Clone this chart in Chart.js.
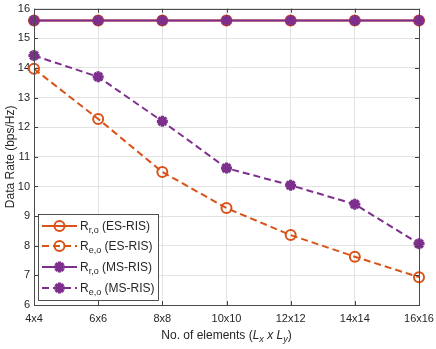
<!DOCTYPE html>
<html>
<head>
<meta charset="utf-8">
<script src="https://cdn.jsdelivr.net/npm/chart.js@4"></script>
<style>
html,body{margin:0;padding:0;background:#fff;}
#wrap{width:436px;height:349px;position:relative;}
</style>
</head>
<body>
<div id="wrap"><canvas id="c" width="436" height="349"></canvas></div>
<script>
const categories = ['4x4','6x6','8x8','10x10','12x12','14x14','16x16'];
const yTicks = [6,7,8,9,10,11,12,13,14,15,16];
const rroES = [15.6,15.6,15.6,15.6,15.6,15.6,15.6];
const reoES = [13.97,12.28,10.49,9.27,8.36,7.63,6.94];
const rroMS = [15.6,15.6,15.6,15.6,15.6,15.6,15.6];
const reoMS = [14.42,13.70,12.20,10.62,10.04,9.40,8.07];

const legendNames = [
  {main:'R', sub:'r,o', tail:' (ES-RIS)'},
  {main:'R', sub:'e,o', tail:' (ES-RIS)'},
  {main:'R', sub:'r,o', tail:' (MS-RIS)'},
  {main:'R', sub:'e,o', tail:' (MS-RIS)'}
];

const ORANGE = '#D95319';
const PURPLE = '#7E2F8E';
const FONT = '"Liberation Sans", Arial, Helvetica, sans-serif';
const TXT = '#262626';

function ds(label, data, color, dashed, style, order){
  const isStar = style === 'star';
  return {
    label, data, order,
    borderColor: color,
    backgroundColor: color,
    borderWidth: 2,
    borderDash: dashed ? [7,4] : [],
    pointStyle: style,
    pointRadius: isStar ? 5.5 : 5,
    pointBorderWidth: isStar ? 3.2 : 2,
    pointBackgroundColor: isStar ? color : 'rgba(0,0,0,0)',
    pointBorderColor: color,
    pointHoverRadius: 5,
    tension: 0,
    fill: false,
    clip: false
  };
}

const overlay = {
  id: 'overlay',
  afterDraw(chart){
    const ctx = chart.ctx;
    const a = chart.chartArea;
    const xs = chart.scales.x, ys = chart.scales.y;
    ctx.save();
    // inner tick marks
    ctx.strokeStyle = '#404040';
    ctx.lineWidth = 1;
    ctx.setLineDash([]);
    ctx.beginPath();
    for (let i = 0; i < categories.length; i++){
      const px = Math.round(xs.getPixelForValue(i)) + 0.5;
      ctx.moveTo(px, a.bottom); ctx.lineTo(px, a.bottom - 4);
      ctx.moveTo(px, a.top); ctx.lineTo(px, a.top + 4);
    }
    yTicks.forEach(v => {
      const py = Math.round(ys.getPixelForValue(v)) + 0.5;
      ctx.moveTo(a.left, py); ctx.lineTo(a.left + 4, py);
      ctx.moveTo(a.right, py); ctx.lineTo(a.right - 4, py);
    });
    ctx.stroke();
    // box
    ctx.strokeStyle = '#4a4a4a';
    ctx.strokeRect(Math.round(a.left)+0.5, Math.round(a.top)+0.5, Math.round(a.right-a.left), Math.round(a.bottom-a.top));

    // legend
    const lx = 38.5, ly = 214.5, lw = 120, lh = 86;
    ctx.fillStyle = '#fff';
    ctx.fillRect(lx, ly, lw, lh);
    ctx.strokeStyle = '#262626';
    ctx.lineWidth = 0.8;
    ctx.strokeRect(lx, ly, lw, lh);
    const rowY = [226, 246, 267, 288];
    const sets = chart.data.datasets;
    const order = [1, 3, 0, 2]; // legend rows -> dataset indices
    for (let r = 0; r < 4; r++){
      const d = sets[order[r]];
      const y = rowY[r];
      ctx.strokeStyle = d.borderColor;
      ctx.lineWidth = 2;
      ctx.setLineDash(d.borderDash);
      ctx.beginPath(); ctx.moveTo(42, y); ctx.lineTo(77, y); ctx.stroke();
      ctx.setLineDash([]);
      ctx.fillStyle = d.pointBackgroundColor;
      ctx.strokeStyle = d.pointBorderColor;
      ctx.lineWidth = d.pointBorderWidth;
      Chart.helpers.drawPoint(ctx, {pointStyle: d.pointStyle, radius: d.pointRadius, rotation: 0, borderWidth: d.pointBorderWidth}, 59.5, y);
      const n = legendNames[r];
      ctx.fillStyle = TXT;
      ctx.textBaseline = 'alphabetic';
      ctx.textAlign = 'left';
      ctx.font = '12px ' + FONT;
      let tx = 80;
      ctx.fillText(n.main, tx, y + 4);
      tx += ctx.measureText(n.main).width;
      ctx.font = '9px ' + FONT;
      ctx.fillText(n.sub, tx, y + 7);
      tx += ctx.measureText(n.sub).width;
      ctx.font = '12px ' + FONT;
      ctx.fillText(n.tail, tx, y + 4);
    }

    // x title with italic + subscripts
    const parts = [
      {t:'No. of elements (', f:'12px', o:0},
      {t:'L', f:'italic 12px', o:0},
      {t:'x', f:'italic 9px', o:3},
      {t:' x ', f:'italic 12px', o:0},
      {t:'L', f:'italic 12px', o:0},
      {t:'y', f:'italic 9px', o:3},
      {t:')', f:'12px', o:0}
    ];
    let total = 0;
    parts.forEach(p => { ctx.font = p.f + ' ' + FONT; p.w = ctx.measureText(p.t).width; total += p.w; });
    let x0 = (a.left + a.right) / 2 - total / 2;
    const by = 339;
    ctx.fillStyle = TXT;
    parts.forEach(p => { ctx.font = p.f + ' ' + FONT; ctx.fillText(p.t, x0, by + p.o); x0 += p.w; });
    ctx.restore();
  }
};

new Chart(document.getElementById('c'), {
  type: 'line',
  data: {
    labels: categories,
    datasets: [
      ds('Rro (MS-RIS)', rroMS, PURPLE, false, 'star', 0),
      ds('Rro (ES-RIS)', rroES, ORANGE, false, 'circle', 3),
      ds('Reo (MS-RIS)', reoMS, PURPLE, true, 'star', 1),
      ds('Reo (ES-RIS)', reoES, ORANGE, true, 'circle', 2)
    ]
  },
  options: {
    responsive: false,
    animation: false,
    devicePixelRatio: 1,
    layout: {padding: {left: 0, right: 17, top: 4, bottom: 0}},
    plugins: {legend: {display: false}, tooltip: {enabled: false}},
    scales: {
      x: {
        type: 'category',
        offset: false,
        grid: {color: '#e3e3e3', drawTicks: false, lineWidth: 1},
        border: {display: false},
        ticks: {color: TXT, font: {family: FONT, size: 11}, padding: 7, maxRotation: 0, autoSkip: false},
        afterFit(s){ s.height = 44; s.paddingLeft = 0; s.paddingRight = 0; }
      },
      y: {
        min: 6, max: 16,
        grid: {color: '#e3e3e3', drawTicks: false, lineWidth: 1},
        border: {display: false},
        ticks: {stepSize: 1, color: TXT, font: {family: FONT, size: 11}, padding: 4},
        title: {display: true, text: 'Data Rate (bps/Hz)', color: TXT, font: {family: FONT, size: 12}, padding: {top: 3, bottom: 0}},
        afterFit(s){ s.width = 34; s.paddingTop = 0; s.paddingBottom = 0; }
      }
    }
  },
  plugins: [overlay]
});
</script>
</body>
</html>
